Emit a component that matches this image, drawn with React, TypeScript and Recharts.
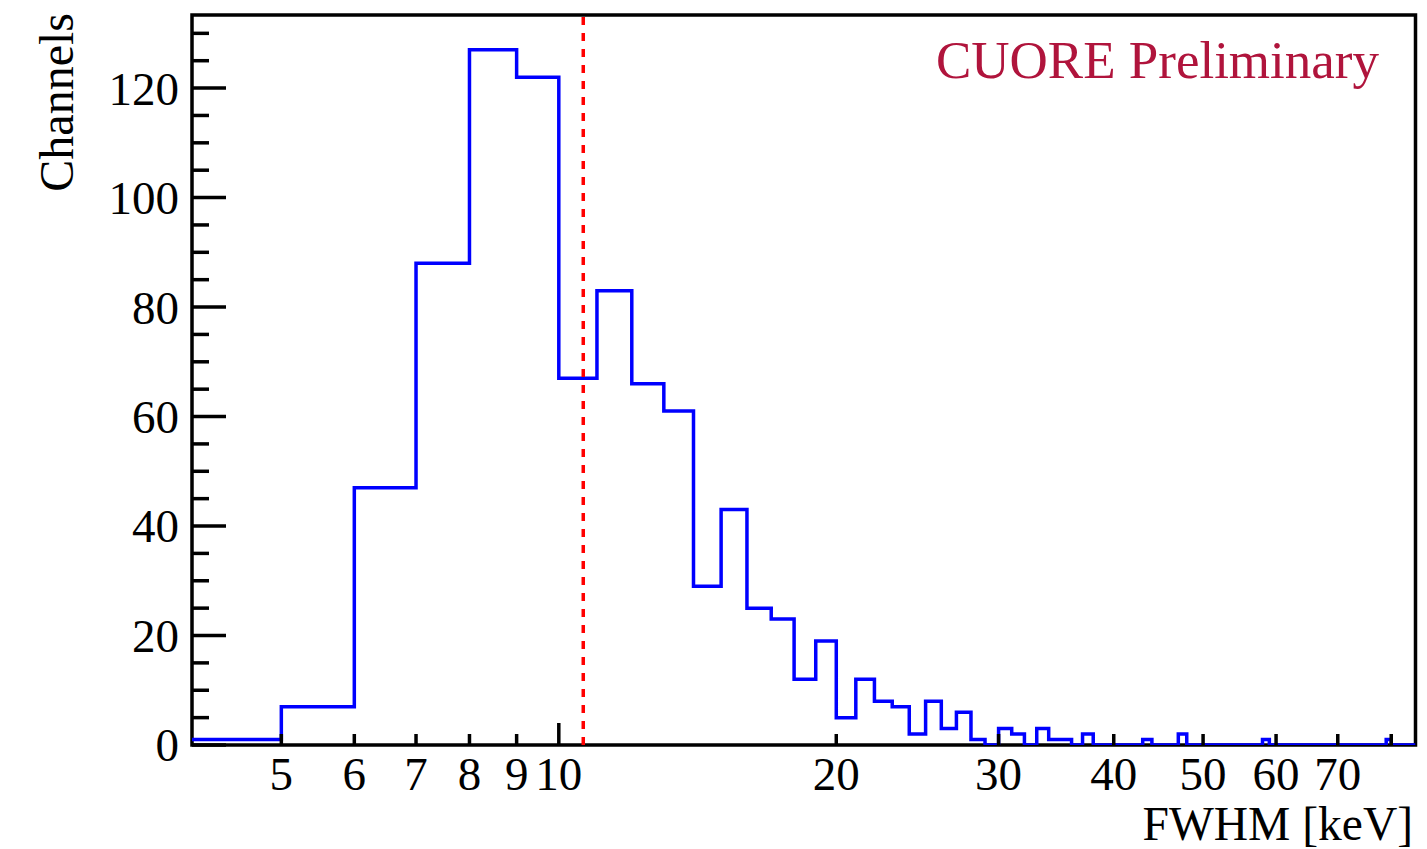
import React from "react";
import {
  ComposedChart,
  Line,
  XAxis,
  YAxis,
  ReferenceLine,
  ReferenceArea,
} from "recharts";

// Histogram of per-channel FWHM, 1 keV wide bins (low edges) and their counts
const binLowEdges = [
  4, 5, 6, 7, 8, 9, 10, 11, 12, 13, 14, 15, 16, 17, 18, 19, 20, 21, 22, 23,
  24, 25, 26, 27, 28, 29, 30, 31, 32, 33, 34, 35, 36, 37, 38, 39, 40, 41, 42,
  43, 44, 45, 46, 47, 48, 49, 50, 51, 52, 53, 54, 55, 56, 57, 58, 59, 60, 61,
  62, 63, 64, 65, 66, 67, 68, 69, 70, 71, 72, 73, 74, 75, 76, 77, 78, 79, 80,
  81, 82, 83, 84,
];
const binUpperEdge = 85;
const channelCounts = [
  1, 7, 47, 88, 127, 122, 67, 83, 66, 61, 29, 43, 25, 23, 12, 19, 5, 12, 8, 7,
  2, 8, 3, 6, 1, 0, 3, 2, 0, 3, 1, 1, 0, 2, 0, 0, 0, 0, 0,
  1, 0, 0, 0, 2, 0, 0, 0, 0, 0, 0, 0, 0, 0, 0, 1, 0, 0, 0,
  0, 0, 0, 0, 0, 0, 0, 0, 0, 0, 0, 0, 0, 0, 0, 0, 0, 1, 0,
  0, 0, 0, 0,
];

// Vertical marker (keV)
const markerFWHM = 10.63;

// Axis ranges and ticks
const xDomain = [4, 85];
const yDomain = [0, 133.35];
const xTicks = [5, 6, 7, 8, 9, 10, 20, 30, 40, 50, 60, 70, 80];
const xTickLabels = ["5", "6", "7", "8", "9", "10", "20", "30", "40", "50", "60", "70", ""];
const xDecadeTicks = [10];
const yTicks = [
  0, 5, 10, 15, 20, 25, 30, 35, 40, 45, 50, 55, 60, 65, 70, 75, 80, 85, 90,
  95, 100, 105, 110, 115, 120, 125, 130,
];
const yLabeledTicks = [0, 20, 40, 60, 80, 100, 120];

const data = [
  ...binLowEdges.map((edge, i) => ({ edge, count: channelCounts[i] })),
  { edge: binUpperEdge, count: channelCounts[channelCounts.length - 1] },
];

const FONT = '"Liberation Serif", "Times New Roman", Times, serif';
const FS = 47;

const YTick = (props: any) => {
  const { x, y, payload } = props;
  const v = payload.value as number;
  const major = yLabeledTicks.includes(v);
  return (
    <g>
      <line x1={x} x2={x + (major ? 34 : 17)} y1={y} y2={y} stroke="#000" strokeWidth={3.5} />
      {major && (
        <text x={x - 13} y={y} dy="0.35em" textAnchor="end" fontFamily={FONT} fontSize={FS} fill="#000">
          {v}
        </text>
      )}
    </g>
  );
};

const XTick = (props: any) => {
  const { x, y, payload } = props;
  const v = payload.value as number;
  const idx = xTicks.indexOf(v);
  const label = idx >= 0 ? xTickLabels[idx] : "";
  const len = xDecadeTicks.includes(v) ? 22 : 11;
  return (
    <g>
      <line x1={x} x2={x} y1={y} y2={y - len} stroke="#000" strokeWidth={3.5} />
      {label && (
        <text x={x} y={y + 45} textAnchor="middle" fontFamily={FONT} fontSize={FS} fill="#000">
          {label}
        </text>
      )}
    </g>
  );
};

export default function App() {
  return (
    <div style={{ position: "absolute", left: 0, top: 0, width: 1427, height: 849, background: "#fff" }}>
      <ComposedChart
        width={1427}
        height={849}
        data={data}
        margin={{ top: 15, right: 11.5, bottom: 0, left: 0 }}
      >
        <XAxis
          dataKey="edge"
          type="number"
          scale="log"
          domain={xDomain}
          allowDataOverflow
          ticks={xTicks}
          interval={0}
          tickSize={0}
          tickMargin={0}
          axisLine={false}
          tick={<XTick />}
          height={104}
        />
        <YAxis
          type="number"
          domain={yDomain}
          allowDataOverflow
          ticks={yTicks}
          interval={0}
          tickSize={0}
          tickMargin={0}
          axisLine={false}
          tick={<YTick />}
          width={192}
        />
        <ReferenceArea
          x1={xDomain[0]}
          x2={xDomain[1]}
          y1={yDomain[0]}
          y2={yDomain[1]}
          fill="none"
          fillOpacity={0}
          stroke="#000"
          strokeWidth={3.5}
          ifOverflow="visible"
        />
        <Line
          dataKey="count"
          type="stepAfter"
          stroke="#0000ff"
          strokeWidth={3.5}
          dot={false}
          activeDot={false}
          isAnimationActive={false}
        />
        <ReferenceLine
          x={markerFWHM}
          stroke="#ff0000"
          strokeWidth={3.5}
          strokeDasharray="8 8"
          ifOverflow="visible"
        />
        <text
          x={1379}
          y={78}
          textAnchor="end"
          fontFamily={FONT}
          fontSize={53}
          fill="#B0143C"
        >
          CUORE Preliminary
        </text>
        <text
          transform="translate(73,13) rotate(-90)"
          textAnchor="end"
          fontFamily={FONT}
          fontSize={48}
          fill="#000"
        >
          Channels
        </text>
        <text x={1413} y={840} textAnchor="end" fontFamily={FONT} fontSize={47.5} fill="#000">
          FWHM [keV]
        </text>
      </ComposedChart>
    </div>
  );
}
